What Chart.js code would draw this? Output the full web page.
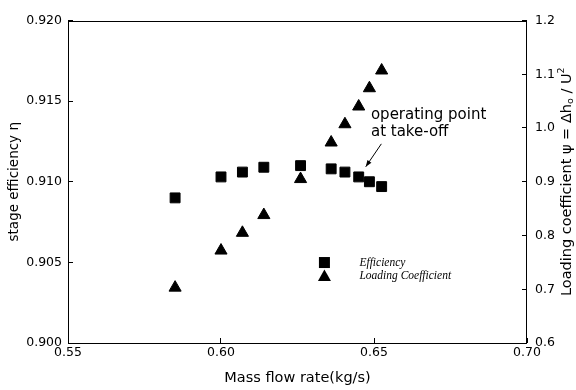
<!DOCTYPE html>
<html>
<head>
<meta charset="utf-8">
<script src="https://cdn.jsdelivr.net/npm/chart.js@4.4.1/dist/chart.umd.min.js"></script>
<style>
  html, body { margin: 0; padding: 0; background: #fff; }
</style>
</head>
<body>
<canvas id="chart" width="576" height="390"></canvas>
<script>
// data
const massFlow = [0.585, 0.600, 0.607, 0.614, 0.626, 0.636, 0.6405, 0.645, 0.6485, 0.6525];
const efficiency = [0.9090, 0.9103, 0.9106, 0.9109, 0.9110, 0.9108, 0.9106, 0.9103, 0.9100, 0.9097];
const loadingCoeff = [0.703, 0.772, 0.805, 0.838, 0.905, 0.973, 1.007, 1.040, 1.074, 1.107];

const massTicks = [0.55, 0.60, 0.65, 0.70];
const etaTicks = [0.900, 0.905, 0.910, 0.915, 0.920];
const psiTicks = [0.6, 0.7, 0.8, 0.9, 1.0, 1.1, 1.2];

const seriesNames = ['Efficiency', 'Loading Coefficient'];
const noteLines = ['operating point', 'at take-off'];

Chart.defaults.font.family = 'DejaVu Sans';
Chart.defaults.color = '#000';

const tickFont = { size: 12.5 };
const inwardGrid = { drawOnChartArea: false, drawTicks: true, tickLength: -5, color: '#000', lineWidth: 1 };

const toPoints = ys => massFlow.map((x, i) => ({ x: x, y: ys[i] }));

const decorations = {
  id: 'decorations',
  afterDraw(chart) {
    const { ctx, chartArea: a, scales } = chart;
    const px = v => scales.x.getPixelForValue(v);
    const py = v => scales.y.getPixelForValue(v);
    ctx.save();

    // frame
    ctx.strokeStyle = '#000';
    ctx.lineWidth = 1;
    ctx.strokeRect(Math.round(a.left) + 0.5, Math.round(a.top) + 0.5,
      Math.round(a.right - a.left) - 1, Math.round(a.bottom - a.top) - 1);

    // annotation
    ctx.fillStyle = '#000';
    ctx.font = '15px "DejaVu Sans"';
    ctx.textBaseline = 'middle';
    ctx.textAlign = 'left';
    ctx.fillText(noteLines[0], px(0.6490), py(0.91414));
    ctx.fillText(noteLines[1], px(0.6490), py(0.91310));

    const x1 = px(0.6524), y1 = py(0.91235);
    const x2 = px(0.6473), y2 = py(0.91093);
    ctx.beginPath();
    ctx.moveTo(x1, y1);
    ctx.lineTo(x2, y2);
    ctx.stroke();
    const ang = Math.atan2(y2 - y1, x2 - x1);
    ctx.beginPath();
    ctx.moveTo(x2, y2);
    ctx.lineTo(x2 - 7 * Math.cos(ang - 0.35), y2 - 7 * Math.sin(ang - 0.35));
    ctx.lineTo(x2 - 7 * Math.cos(ang + 0.35), y2 - 7 * Math.sin(ang + 0.35));
    ctx.closePath();
    ctx.fill();

    // legend
    const lx = px(0.6338), ly1 = py(0.90499), ly2 = ly1 + 14.5;
    ctx.fillRect(lx - 5.5, ly1 - 5.5, 11, 11);
    ctx.beginPath();
    ctx.moveTo(lx, ly2 - 7.5);
    ctx.lineTo(lx + 6.5, ly2 + 4);
    ctx.lineTo(lx - 6.5, ly2 + 4);
    ctx.closePath();
    ctx.fill();
    ctx.font = 'italic 11.5px "Liberation Serif"';
    ctx.fillText(seriesNames[0], lx + 35, ly1 + 0.5);
    ctx.fillText(seriesNames[1], lx + 35, ly1 + 13.5);

    // right axis title, reading upwards with sub/superscripts
    const big = '14.5px "DejaVu Sans"', small = '9.5px "DejaVu Sans"';
    const parts = [
      { t: 'Loading coefficient \u03C8 = \u0394h', f: big, dy: 0 },
      { t: 'o', f: small, dy: 3.5 },
      { t: ' / U', f: big, dy: 0 },
      { t: '2', f: small, dy: -5 }
    ];
    let total = 0;
    parts.forEach(p => { ctx.font = p.f; p.w = ctx.measureText(p.t).width; total += p.w; });
    ctx.translate(567, (a.top + a.bottom) / 2);
    ctx.rotate(-Math.PI / 2);
    let cx = -total / 2;
    parts.forEach(p => {
      ctx.font = p.f;
      ctx.fillText(p.t, cx, p.dy);
      cx += p.w;
    });
    ctx.restore();
  }
};

new Chart(document.getElementById('chart'), {
  type: 'scatter',
  data: {
    datasets: [
      {
        label: seriesNames[0],
        data: toPoints(efficiency),
        yAxisID: 'y',
        pointStyle: 'rect',
        pointRadius: 7,
        backgroundColor: '#000',
        borderColor: '#000',
        borderWidth: 1
      },
      {
        label: seriesNames[1],
        data: toPoints(loadingCoeff),
        yAxisID: 'y2',
        pointStyle: 'triangle',
        pointRadius: 7,
        backgroundColor: '#000',
        borderColor: '#000',
        borderWidth: 1
      }
    ]
  },
  options: {
    responsive: false,
    animation: false,
    layout: { padding: { top: 13, left: 0, right: 0, bottom: 0 } },
    plugins: { legend: { display: false }, tooltip: { enabled: false } },
    scales: {
      x: {
        type: 'linear',
        position: 'bottom',
        min: 0.55,
        max: 0.70,
        afterBuildTicks: s => { s.ticks = massTicks.map(v => ({ value: v })); },
        afterFit: s => { s.height = 47; },
        grid: inwardGrid,
        border: { display: false },
        ticks: { font: tickFont, padding: 7, maxRotation: 0, callback: v => v.toFixed(2) },
        title: { display: true, text: 'Mass flow rate(kg/s)', font: { size: 14.5 }, padding: { top: 0, bottom: 3 } }
      },
      y: {
        type: 'linear',
        position: 'left',
        min: 0.900,
        max: 0.920,
        afterBuildTicks: s => { s.ticks = etaTicks.map(v => ({ value: v })); },
        afterFit: s => { s.width = 68; },
        grid: inwardGrid,
        border: { display: false },
        ticks: { font: tickFont, padding: 11, callback: v => v.toFixed(3) },
        title: { display: true, text: 'stage efficiency \u03B7', font: { size: 13.5 }, padding: { top: 6, bottom: 0 } }
      },
      y2: {
        type: 'linear',
        position: 'right',
        min: 0.6,
        max: 1.2,
        afterBuildTicks: s => { s.ticks = psiTicks.map(v => ({ value: v })); },
        afterFit: s => { s.width = 49; },
        grid: inwardGrid,
        border: { display: false },
        ticks: { font: tickFont, padding: 13, callback: v => v.toFixed(1) }
      }
    }
  },
  plugins: [decorations]
});
</script>
</body>
</html>
